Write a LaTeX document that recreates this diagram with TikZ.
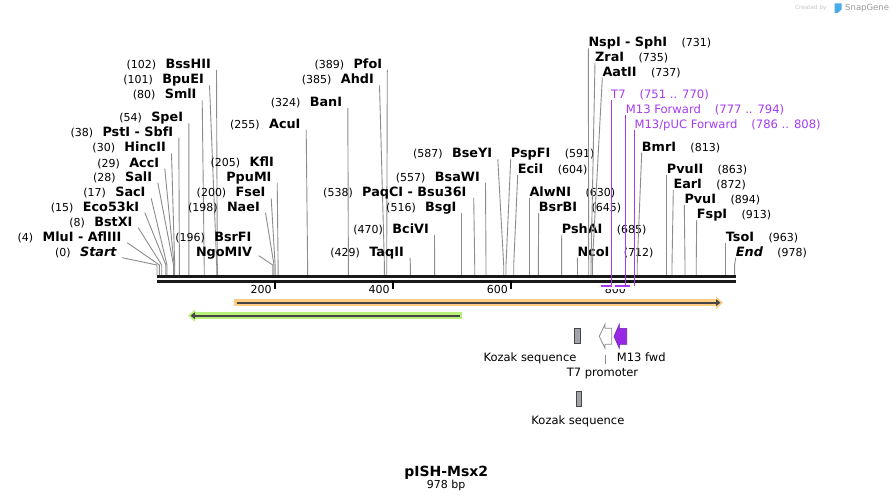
\documentclass[tikz,border=0pt]{standalone}
\usepackage{fontspec}
\setmainfont{DejaVu Sans}
\usepackage{tikz}
\usetikzlibrary{positioning,arrows.meta}
\definecolor{cutgray}{RGB}{140,140,140}
\definecolor{primerpurple}{RGB}{165,60,240}
\definecolor{orfband}{RGB}{252,205,130}
\definecolor{orfgreen}{RGB}{184,240,122}
\definecolor{orfline}{RGB}{70,70,70}
\definecolor{kozakfill}{RGB}{160,163,170}
\definecolor{fwdpurple}{RGB}{150,40,230}
\definecolor{snapblue}{RGB}{70,170,235}

\begin{document}
\begin{tikzpicture}[x=1pt,y=-1pt]
  \tikzstyle{enz}=[inner sep=0pt,font=\fontsize{12.8}{15}\selectfont\bfseries]
  \tikzstyle{bpnum}=[inner sep=0pt,font=\fontsize{11}{13}\selectfont]
  \tikzstyle{primer}=[inner sep=0pt,text=primerpurple,font=\fontsize{11.6}{13}\selectfont]
  \tikzstyle{feat}=[inner sep=0pt,font=\fontsize{11.5}{13}\selectfont]
  \tikzstyle{cutline}=[draw=cutgray,line width=0.9pt]
  \tikzstyle{primerline}=[draw=primerpurple,line width=1pt]
  \tikzstyle{kozak}=[fill=kozakfill,draw=orfline,line width=0.8pt]

  \fill[white] (0,0) rectangle (893,502);
  \useasboundingbox (0,0) rectangle (893,502);

  \node[inner sep=0pt,anchor=base west,text=black!22,font=\fontsize{5.7}{7}\selectfont] (created) at (795,10) {Created by};
  \fill[snapblue] (834.5,3.5) -- (841.5,3.5) -- (841.5,9.5) -- (837.5,13) -- (834.5,13) -- cycle;
  \node[inner sep=0pt,anchor=base west,text=black!40,font=\fontsize{8.5}{10}\selectfont] (snapgene) at (845,11) {SnapGene};

  \node[enz,anchor=base east] (BssHII) at (211,68.5) {BssHII};
  \node[bpnum,left=9pt of BssHII.base west,anchor=base east] (n102) {(102)};
  \coordinate (cBssHII) at (217.3,265);
  \draw[cutline] ([xshift=5.5pt,yshift=-1.5pt]BssHII.base east) -- (cBssHII) -- ++(0,10.5);

  \node[enz,anchor=base east] (BpuEI) at (204,83.8) {BpuEI};
  \node[bpnum,left=9pt of BpuEI.base west,anchor=base east] (n101) {(101)};
  \coordinate (cBpuEI) at (216.7,265);
  \draw[cutline] ([xshift=5.5pt,yshift=-1.5pt]BpuEI.base east) -- (cBpuEI) -- ++(0,10.5);

  \node[enz,anchor=base east] (SmlI) at (196.7,98.8) {SmlI};
  \node[bpnum,left=9pt of SmlI.base west,anchor=base east] (n80) {(80)};
  \coordinate (cSmlI) at (204.2,265);
  \draw[cutline] ([xshift=5.5pt,yshift=-1.5pt]SmlI.base east) -- (cSmlI) -- ++(0,10.5);

  \node[enz,anchor=base east] (SpeI) at (183.3,121.8) {SpeI};
  \node[bpnum,left=9pt of SpeI.base west,anchor=base east] (n54) {(54)};
  \coordinate (cSpeI) at (188.9,265);
  \draw[cutline] ([xshift=5.5pt,yshift=-1.5pt]SpeI.base east) -- (cSpeI) -- ++(0,10.5);

  \node[enz,anchor=base east] (PstI) at (173.3,136.2) {PstI - SbfI};
  \node[bpnum,left=9pt of PstI.base west,anchor=base east] (n38) {(38)};
  \coordinate (cPstI) at (179.4,265);
  \draw[cutline] ([xshift=5.5pt,yshift=-1.5pt]PstI.base east) -- (cPstI) -- ++(0,10.5);

  \node[enz,anchor=base east] (HincII) at (166,151.8) {HincII};
  \node[bpnum,left=9pt of HincII.base west,anchor=base east] (n30) {(30)};
  \coordinate (cHincII) at (174.7,265);
  \draw[cutline] ([xshift=5.5pt,yshift=-1.5pt]HincII.base east) -- (cHincII) -- ++(0,10.5);

  \node[enz,anchor=base east] (AccI) at (159.3,167.2) {AccI};
  \node[bpnum,left=9pt of AccI.base west,anchor=base east] (n29) {(29)};
  \coordinate (cAccI) at (174.1,265);
  \draw[cutline] ([xshift=5.5pt,yshift=-1.5pt]AccI.base east) -- (cAccI) -- ++(0,10.5);

  \node[enz,anchor=base east] (SalI) at (152.3,181.2) {SalI};
  \node[bpnum,left=9pt of SalI.base west,anchor=base east] (n28) {(28)};
  \coordinate (cSalI) at (173.5,265);
  \draw[cutline] ([xshift=5.5pt,yshift=-1.5pt]SalI.base east) -- (cSalI) -- ++(0,10.5);

  \node[enz,anchor=base east] (SacI) at (145.7,196.8) {SacI};
  \node[bpnum,left=9pt of SacI.base west,anchor=base east] (n17) {(17)};
  \coordinate (cSacI) at (167,265);
  \draw[cutline] ([xshift=5.5pt,yshift=-1.5pt]SacI.base east) -- (cSacI) -- ++(0,10.5);

  \node[enz,anchor=base east] (Eco53kI) at (139.3,211.2) {Eco53kI};
  \node[bpnum,left=9pt of Eco53kI.base west,anchor=base east] (n15) {(15)};
  \coordinate (cEco53kI) at (165.9,265);
  \draw[cutline] ([xshift=5.5pt,yshift=-1.5pt]Eco53kI.base east) -- (cEco53kI) -- ++(0,10.5);

  \node[enz,anchor=base east] (BstXI) at (132.7,226.2) {BstXI};
  \node[bpnum,left=9pt of BstXI.base west,anchor=base east] (n8) {(8)};
  \coordinate (cBstXI) at (161.7,265);
  \draw[cutline] ([xshift=5.5pt,yshift=-1.5pt]BstXI.base east) -- (cBstXI) -- ++(0,10.5);

  \node[enz,anchor=base east] (MluI) at (121.7,241.2) {MluI - AflIII};
  \node[bpnum,left=9pt of MluI.base west,anchor=base east] (n4) {(4)};
  \coordinate (cMluI) at (159.4,265);
  \draw[cutline] ([xshift=5.5pt,yshift=-1.5pt]MluI.base east) -- (cMluI) -- ++(0,10.5);

  \node[enz,anchor=base east] (Start) at (116.7,256.2) {\itshape Start};
  \node[bpnum,left=9pt of Start.base west,anchor=base east] (n0) {(0)};
  \coordinate (cStart) at (157,265);
  \draw[cutline] ([xshift=5.5pt,yshift=-1.5pt]Start.base east) -- (cStart) -- ++(0,10.5);

  \node[enz,anchor=base east] (KflI) at (274,166.8) {KflI};
  \node[bpnum,left=9pt of KflI.base west,anchor=base east] (n205) {(205)};
  \node[enz,anchor=base east] (PpuMI) at (271.7,181.2) {PpuMI};
  \coordinate (cPpuMI) at (278.1,265);
  \draw[cutline] ([xshift=5.5pt,yshift=-1.5pt]PpuMI.base east) -- (cPpuMI) -- ++(0,10.5);

  \node[enz,anchor=base east] (FseI) at (265.7,196.8) {FseI};
  \node[bpnum,left=9pt of FseI.base west,anchor=base east] (n200) {(200)};
  \coordinate (cFseI) at (275.1,265);
  \draw[cutline] ([xshift=5.5pt,yshift=-1.5pt]FseI.base east) -- (cFseI) -- ++(0,10.5);

  \node[enz,anchor=base east] (NaeI) at (260,211.2) {NaeI};
  \node[bpnum,left=9pt of NaeI.base west,anchor=base east] (n198) {(198)};
  \coordinate (cNaeI) at (274,265);
  \draw[cutline] ([xshift=5.5pt,yshift=-1.5pt]NaeI.base east) -- (cNaeI) -- ++(0,10.5);

  \node[enz,anchor=base east] (BsrFI) at (251.7,241.2) {BsrFI};
  \node[bpnum,left=9pt of BsrFI.base west,anchor=base east] (n196) {(196)};
  \node[enz,anchor=base east] (NgoMIV) at (252.3,256.2) {NgoMIV};
  \coordinate (cNgoMIV) at (272.8,265);
  \draw[cutline] ([xshift=6.5pt,yshift=0.5pt]NgoMIV.base east) -- (cNgoMIV) -- ++(0,10.5);

  \node[enz,anchor=base east] (AcuI) at (300.7,128.5) {AcuI};
  \node[bpnum,left=9pt of AcuI.base west,anchor=base east] (n255) {(255)};
  \coordinate (cAcuI) at (307.6,265);
  \draw[cutline] ([xshift=5.5pt,yshift=-1.5pt]AcuI.base east) -- (cAcuI) -- ++(0,10.5);

  \node[enz,anchor=base east] (BanI) at (342.3,106.5) {BanI};
  \node[bpnum,left=9pt of BanI.base west,anchor=base east] (n324) {(324)};
  \coordinate (cBanI) at (348.4,265);
  \draw[cutline] ([xshift=5.5pt,yshift=-1.5pt]BanI.base east) -- (cBanI) -- ++(0,10.5);

  \node[enz,anchor=base east] (PfoI) at (382.3,68.5) {PfoI};
  \node[bpnum,left=9pt of PfoI.base west,anchor=base east] (n389) {(389)};
  \coordinate (cPfoI) at (386.7,265);
  \draw[cutline] ([xshift=5pt,yshift=-1.5pt]PfoI.base east) -- (cPfoI) -- ++(0,10.5);

  \node[enz,anchor=base east] (AhdI) at (374,83.8) {AhdI};
  \node[bpnum,left=9pt of AhdI.base west,anchor=base east] (n385) {(385)};
  \coordinate (cAhdI) at (384.4,265);
  \draw[cutline] ([xshift=5.5pt,yshift=-1.5pt]AhdI.base east) -- (cAhdI) -- ++(0,10.5);

  \node[enz,anchor=base east] (BseYI) at (492.3,157.8) {BseYI};
  \node[bpnum,left=9pt of BseYI.base west,anchor=base east] (n587) {(587)};
  \coordinate (cBseYI) at (503.7,265);
  \draw[cutline] ([xshift=5.5pt,yshift=-1.5pt]BseYI.base east) -- (cBseYI) -- ++(0,10.5);

  \node[enz,anchor=base east] (BsaWI) at (480,181.2) {BsaWI};
  \node[bpnum,left=9pt of BsaWI.base west,anchor=base east] (n557) {(557)};
  \coordinate (cBsaWI) at (486,265);
  \draw[cutline] ([xshift=5.5pt,yshift=-1.5pt]BsaWI.base east) -- (cBsaWI) -- ++(0,10.5);

  \node[enz,anchor=base east] (PaqCI) at (466.7,196.2) {PaqCI - Bsu36I};
  \node[bpnum,left=9pt of PaqCI.base west,anchor=base east] (n538) {(538)};
  \coordinate (cPaqCI) at (474.7,265);
  \draw[cutline] ([xshift=7pt,yshift=-1.5pt]PaqCI.base east) -- (cPaqCI) -- ++(0,10.5);

  \node[enz,anchor=base east] (BsgI) at (456.7,211.2) {BsgI};
  \node[bpnum,left=9pt of BsgI.base west,anchor=base east] (n516) {(516)};
  \coordinate (cBsgI) at (461.7,265);
  \draw[cutline] ([xshift=5pt,yshift=-1.5pt]BsgI.base east) -- (cBsgI) -- ++(0,10.5);

  \node[enz,anchor=base east] (BciVI) at (429,233.5) {BciVI};
  \node[bpnum,left=9pt of BciVI.base west,anchor=base east] (n470) {(470)};
  \coordinate (cBciVI) at (434.6,265);
  \draw[cutline] ([xshift=5.5pt,yshift=-1.5pt]BciVI.base east) -- (cBciVI) -- ++(0,10.5);

  \node[enz,anchor=base east] (TaqII) at (404,256.2) {TaqII};
  \node[bpnum,left=9pt of TaqII.base west,anchor=base east] (n429) {(429)};
  \coordinate (cTaqII) at (410.4,265);
  \draw[cutline] ([xshift=6pt,yshift=-1.5pt]TaqII.base east) -- (cTaqII) -- ++(0,10.5);

  \node[enz,anchor=base west] (PspFI) at (510.7,157.8) {PspFI};
  \node[bpnum,right=14pt of PspFI.base east,anchor=base west] (n591) {(591)};
  \coordinate (cPspFI) at (506,265);
  \draw[cutline] ([yshift=-1.5pt]PspFI.base west) -- (cPspFI) -- ++(0,10.5);

  \node[enz,anchor=base west] (EciI) at (517.7,173.5) {EciI};
  \node[bpnum,right=14pt of EciI.base east,anchor=base west] (n604) {(604)};
  \coordinate (cEciI) at (513.7,265);
  \draw[cutline] ([yshift=-1.5pt]EciI.base west) -- (cEciI) -- ++(0,10.5);

  \node[enz,anchor=base west] (AlwNI) at (529.3,196.2) {AlwNI};
  \node[bpnum,right=14pt of AlwNI.base east,anchor=base west] (n630) {(630)};
  \coordinate (cAlwNI) at (529.3,265);
  \draw[cutline] ([yshift=-1.5pt]AlwNI.base west) -- (cAlwNI) -- ++(0,10.5);

  \node[enz,anchor=base west] (BsrBI) at (538.7,211.2) {BsrBI};
  \node[bpnum,right=14pt of BsrBI.base east,anchor=base west] (n645) {(645)};
  \coordinate (cBsrBI) at (538.3,265);
  \draw[cutline] ([yshift=-1.5pt]BsrBI.base west) -- (cBsrBI) -- ++(0,10.5);

  \node[enz,anchor=base west] (PshAI) at (561.7,233.5) {PshAI};
  \node[bpnum,right=14pt of PshAI.base east,anchor=base west] (n685) {(685)};
  \coordinate (cPshAI) at (561.6,265);
  \draw[cutline] ([yshift=-1.5pt]PshAI.base west) -- (cPshAI) -- ++(0,10.5);

  \node[enz,anchor=base west] (NcoI) at (577.3,256.2) {NcoI};
  \node[bpnum,right=14pt of NcoI.base east,anchor=base west] (n712) {(712)};
  \coordinate (cNcoI) at (577.5,265);
  \draw[cutline] ([yshift=-1.5pt]NcoI.base west) -- (cNcoI) -- ++(0,10.5);

  \node[enz,anchor=base west] (NspI) at (588.3,46.8) {NspI - SphI};
  \node[bpnum,right=14pt of NspI.base east,anchor=base west] (n731) {(731)};
  \coordinate (cNspI) at (588.7,265);
  \draw[cutline] ([yshift=-1.5pt]NspI.base west) -- (cNspI) -- ++(0,10.5);

  \node[enz,anchor=base west] (ZraI) at (595,61.2) {ZraI};
  \node[bpnum,right=14pt of ZraI.base east,anchor=base west] (n735) {(735)};
  \coordinate (cZraI) at (591,265);
  \draw[cutline] ([yshift=-1.5pt]ZraI.base west) -- (cZraI) -- ++(0,10.5);

  \node[enz,anchor=base west] (AatII) at (602.3,76.2) {AatII};
  \node[bpnum,right=14pt of AatII.base east,anchor=base west] (n737) {(737)};
  \coordinate (cAatII) at (592.3,265);
  \draw[cutline] ([yshift=-1.5pt]AatII.base west) -- (cAatII) -- ++(0,10.5);

  \node[enz,anchor=base west] (BmrI) at (641.7,151.2) {BmrI};
  \node[bpnum,right=14pt of BmrI.base east,anchor=base west] (n813) {(813)};
  \coordinate (cBmrI) at (637.2,265);
  \draw[cutline] ([yshift=-1.5pt]BmrI.base west) -- (cBmrI) -- ++(0,10.5);

  \node[enz,anchor=base west] (PvuII) at (666.7,173.5) {PvuII};
  \node[bpnum,right=14pt of PvuII.base east,anchor=base west] (n863) {(863)};
  \coordinate (cPvuII) at (666.7,265);
  \draw[cutline] ([yshift=-1.5pt]PvuII.base west) -- (cPvuII) -- ++(0,10.5);

  \node[enz,anchor=base west] (EarI) at (673.3,188.5) {EarI};
  \node[bpnum,right=14pt of EarI.base east,anchor=base west] (n872) {(872)};
  \coordinate (cEarI) at (672,265);
  \draw[cutline] ([yshift=-1.5pt]EarI.base west) -- (cEarI) -- ++(0,10.5);

  \node[enz,anchor=base west] (PvuI) at (684.3,203.5) {PvuI};
  \node[bpnum,right=14pt of PvuI.base east,anchor=base west] (n894) {(894)};
  \coordinate (cPvuI) at (685,265);
  \draw[cutline] ([yshift=-1.5pt]PvuI.base west) -- (cPvuI) -- ++(0,10.5);

  \node[enz,anchor=base west] (FspI) at (696.7,218.5) {FspI};
  \node[bpnum,right=14pt of FspI.base east,anchor=base west] (n913) {(913)};
  \coordinate (cFspI) at (696.2,265);
  \draw[cutline] ([yshift=-1.5pt]FspI.base west) -- (cFspI) -- ++(0,10.5);

  \node[enz,anchor=base west] (TsoI) at (725.7,241.8) {TsoI};
  \node[bpnum,right=14pt of TsoI.base east,anchor=base west] (n963) {(963)};
  \coordinate (cTsoI) at (725.7,265);
  \draw[cutline] ([yshift=-1.5pt]TsoI.base west) -- (cTsoI) -- ++(0,10.5);

  \node[enz,anchor=base west] (End) at (735.7,256.2) {\itshape End};
  \node[bpnum,right=14pt of End.base east,anchor=base west] (n978) {(978)};
  \coordinate (cEnd) at (734.6,265);
  \draw[cutline] ([yshift=-1.5pt]End.base west) -- (cEnd) -- ++(0,10.5);

  \coordinate (bbL) at (157,276.6);
  \coordinate (bbR) at (736,276.6);
  \draw[black!90,line width=2.6pt] (bbL) -- (bbR);
  \draw[black!90,line width=2.6pt] ([yshift=-4.8pt]bbL) -- ([yshift=-4.8pt]bbR);

  \draw[line width=2pt] (275.1,281) -- (275.1,289.5);
  \draw[line width=2pt] (393.2,281) -- (393.2,289.5);
  \draw[line width=2pt] (511.4,281) -- (511.4,289.5);
  \draw[line width=2pt] (629.5,281) -- (629.5,289.5);
  \node[bpnum,anchor=base east] (t200) at (271.7,293.3) {200};
  \node[bpnum,anchor=base east] (t400) at (389.8,293.3) {400};
  \node[bpnum,anchor=base east] (t600) at (508,293.3) {600};
  \node[bpnum,anchor=base east] (t800) at (626.1,293.3) {800};
  \fill[white] (597,283.2) rectangle (637,288.6);

  \node[primer,anchor=base west] (pT7) at (611,98.5) {T7};
  \node[primer,right=13.5pt of pT7.base east,anchor=base west] (rT7) {(751 .. 770)};
  \coordinate (bT7) at (611.7,286.5);
  \draw[primerline] ([xshift=0.7pt,yshift=-1.5pt]pT7.base west) -- (bT7);

  \node[primer,anchor=base west] (pM13F) at (625.7,113.5) {M13 Forward};
  \node[primer,right=13.5pt of pM13F.base east,anchor=base west] (rM13F) {(777 .. 794)};
  \coordinate (bM13F) at (625.7,286.5);
  \draw[primerline] ([yshift=-1.5pt]pM13F.base west) -- (bM13F);

  \node[primer,anchor=base west] (pM13pUC) at (634.3,128.5) {M13/pUC Forward};
  \node[primer,right=13.5pt of pM13pUC.base east,anchor=base west] (rM13pUC) {(786 .. 808)};
  \coordinate (bM13pUC) at (634.3,286.5);
  \draw[primerline] ([yshift=-1.5pt]pM13pUC.base west) -- (bM13pUC);

  \draw[primerpurple,line width=2pt] (600.5,285.6) -- (612.2,285.6);
  \draw[primerpurple,line width=2pt] (615.3,285.6) -- (626.2,285.6);
  \draw[primerpurple,line width=2pt] (621,285.6) -- (629.5,285.6);

  \draw[orfband,line width=6.5pt,-{Triangle[length=7pt,width=12pt]}] (234,302.7) -- (723,302.7);
  \draw[orfline,line width=2pt,-{Triangle[length=4.5pt,width=6.5pt]}] (236.5,302.7) -- (720.5,302.7);
  \draw[orfgreen,line width=6.5pt,-{Triangle[length=7pt,width=12pt]}] (462,315.7) -- (188,315.7);
  \draw[orfline,line width=2pt,-{Triangle[length=4.5pt,width=6.5pt]}] (459.5,315.7) -- (190.5,315.7);

  \draw[kozak] (574.3,328.3) rectangle (580,343.6);
  \node[feat,anchor=base] (lKozakA) at (530,361) {Kozak sequence};
  \draw[fill=white,draw=black!45,line width=0.8pt] (599.3,336.3) -- (605,324.3) -- (605,328.3) -- (611.7,328.3) -- (611.7,344.3) -- (605,344.3) -- (605,348.3) -- cycle;
  \coordinate (fT7p) at (605,354.5);
  \coordinate (fT7pEnd) at (605,364);
  \draw[black!45,line width=0.8pt] (fT7p) -- (fT7pEnd);
  \node[feat,anchor=base] (lT7p) at (602.5,376.7) {T7 promoter};
  \draw[fill=fwdpurple,draw=fwdpurple!75!black,line width=0.6pt] (614,336.3) -- (619.3,324.3) -- (619.3,328.3) -- (626.7,328.3) -- (626.7,344.3) -- (619.3,344.3) -- (619.3,348.3) -- cycle;
  \node[feat,anchor=base west] (lM13fwd) at (616.7,361) {M13 fwd};

  \draw[kozak] (576.7,391.2) rectangle (581.7,406.7);
  \node[feat,anchor=base] (lKozakB) at (577.9,424.3) {Kozak sequence};

  \node[inner sep=0pt,font=\fontsize{14}{16}\selectfont\bfseries] (title) at (446.2,472.5) {pISH-Msx2};
  \node[inner sep=0pt,font=\fontsize{11}{13}\selectfont,below=0.8pt of title] (length) {978 bp};
\end{tikzpicture}
\end{document}
